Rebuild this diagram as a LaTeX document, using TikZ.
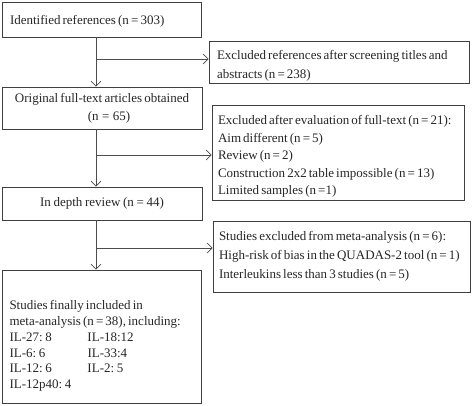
\documentclass[tikz,border=0pt]{standalone}
\usepackage{fontspec}
\setmainfont{Liberation Serif}
\usetikzlibrary{arrows.meta}
\newcommand{\fsz}[1]{\fontsize{13}{#1}\selectfont}
\newcommand{\tsp}{\spaceskip=2.1pt plus 0.5pt minus 0.3pt\relax\xspaceskip=2.6pt plus 0.5pt\relax}
\begin{document}
\begin{tikzpicture}[x=1pt,y=-1pt,
  box/.style={draw=black!75,line width=0.8pt,rectangle,inner sep=0pt,font=\fsz{17},text=black!85},
  arr/.style={draw=black!70,line width=0.7pt,-{Straight Barb[length=5pt,width=10pt]}}]
\useasboundingbox (0,0) rectangle (472,405);
\node[box,minimum width=199pt,minimum height=35pt,text width=183pt,align=left] (b1) at (101.5,19.5) {\tsp\rule{0pt}{13pt}Identified references (n = 303)};
\node[box,minimum width=260pt,minimum height=42pt,text width=244pt,align=left,font=\fsz{19}] (b2) at (339,62) {\tsp\rule{0pt}{16pt}\mbox{Excluded references after screening titles and}\\abstracts (n = 238)};
\node[box,minimum width=200pt,minimum height=42pt,text width=186pt,align=center,font=\fsz{18}] (b3) at (102,108) {\tsp Original full-text articles obtained\\\hspace*{14pt}(n = 65)};
\node[box,minimum width=252pt,minimum height=95pt,text width=240pt,align=left,font=\fsz{17.5}] (b4) at (338,152.5) {\tsp\rule{0pt}{17pt}\mbox{Excluded after evaluation of full-text (n = 21):}\\Aim different (n = 5)\\Review (n = 2)\\\mbox{Construction 2x2 table impossible (n = 13)}\\Limited samples (n =1)};
\node[box,minimum width=200pt,minimum height=33pt,text width=182pt,align=center] (b5) at (102,203.5) {\tsp In depth review (n = 44)};
\node[box,minimum width=257pt,minimum height=71pt,text width=245pt,align=left,font=\fsz{19}] (b6) at (341.5,256.5) {\tsp\mbox{Studies excluded from meta-analysis (n = 6):}\\\mbox{High-risk of bias in the QUADAS-2 tool (n = 1)}\\\mbox{Interleukins less than 3 studies (n = 5)}};
\node[box,minimum width=199pt,minimum height=133pt,text width=185pt,align=left,font=\fsz{15.8}] (b7) at (102,336.5) {\tsp\rule{0pt}{28pt}Studies finally included in\\\mbox{meta-analysis (n = 38), including:}\\\makebox[78pt][l]{IL-27: 8}IL-18:12\\\makebox[78pt][l]{IL-6: 6}IL-33:4\\\makebox[78pt][l]{IL-12: 6}IL-2: 5\\IL-12p40: 4};
\coordinate (t) at (96,0);
\coordinate (j1) at (96,59);
\coordinate (j2) at (96,155);
\coordinate (j3) at (96,248);
\draw[arr] (b1.south -| t) -- (b3.north -| t);
\draw[arr] (j1) -- (j1 -| b2.west);
\draw[arr] (b3.south -| t) -- (b5.north -| t);
\draw[arr] (j2) -- (j2 -| b4.west);
\draw[arr] (b5.south -| t) -- (b7.north -| t);
\draw[arr] (j3) -- (j3 -| b6.west);
\end{tikzpicture}
\end{document}
